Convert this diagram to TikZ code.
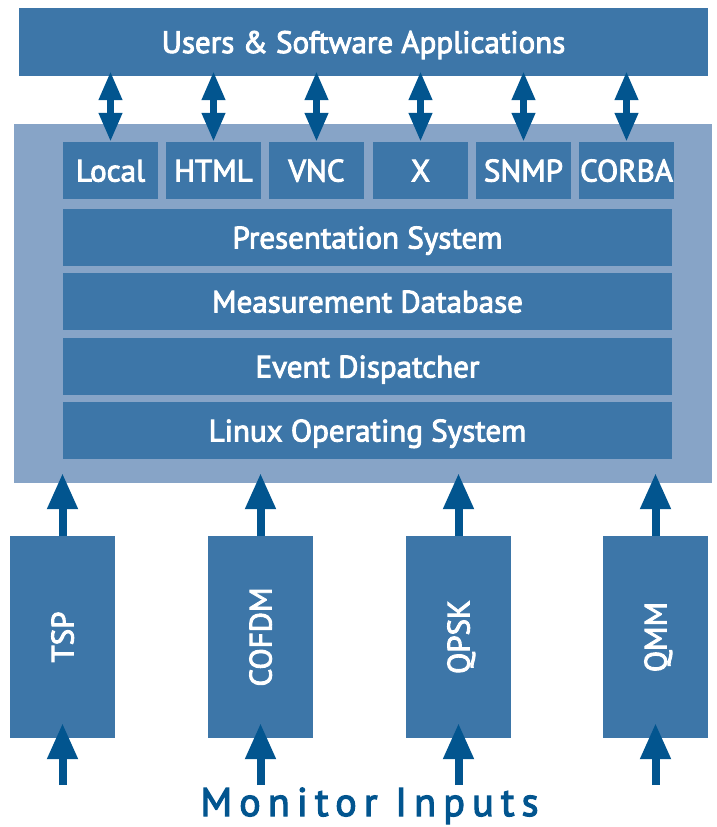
\documentclass[tikz,border=0pt]{standalone}
\usepackage{fontspec}
\setmainfont{PT Sans}
\newfontfamily\medfont[FakeBold=3]{PT Sans}
\usetikzlibrary{arrows.meta}
\definecolor{boxblue}{RGB}{61,118,168}
\definecolor{panelblue}{RGB}{135,164,199}
\definecolor{arrowblue}{RGB}{2,85,143}
\tikzset{
  blk/.style={fill=boxblue, draw=none, inner sep=0pt, text=white,
    font=\medfont\fontsize{31}{31}\selectfont, text height=22pt, text depth=0pt},
  tile/.style={blk, minimum width=95pt, minimum height=57pt},
  layer/.style={blk, minimum width=609pt, minimum height=57pt},
  inbox/.style={fill=boxblue, draw=none, inner sep=0pt, minimum width=105pt, minimum height=202pt},
  vlabel/.style={text=white, font=\medfont\fontsize{31}{31}\selectfont, rotate=90, text height=22pt, text depth=0pt, inner sep=0pt},
  dbl/.style={draw=arrowblue, line width=7pt,
    {Triangle[length=29pt,width=22pt]}-{Triangle[length=29pt,width=22pt]}},
  uparr/.style={draw=arrowblue, line width=8pt,
    -{Triangle[length=36pt,width=29pt]}},
}
\begin{document}
\begin{tikzpicture}[x=1pt,y=-1pt]
\useasboundingbox (0,0) rectangle (717,827);
% top
\node[blk, minimum width=689pt, minimum height=68pt] (users) at (363.5,42) {Users \& Software Applications};
% panel
\node[fill=panelblue, draw=none, inner sep=0pt, minimum width=698pt, minimum height=359pt] (panel) at (363,303.5) {};
% tiles
\node[tile] (local) at (110.5,170.5) {Local};
\node[tile] (html)  at (213.5,170.5) {HTML};
\node[tile] (vnc)   at (316.5,170.5) {VNC};
\node[tile] (x)     at (420.5,170.5) {X};
\node[tile] (snmp)  at (523.5,170.5) {SNMP};
\node[tile] (corba) at (626.5,170.5) {CORBA};
% layers
\node[layer] (pres)  at (367.5,237.5) {Presentation System};
\node[layer] (meas)  at (367.5,301.5) {Measurement Database};
\node[layer] (event) at (367.5,366.5) {Event Dispatcher};
\node[layer] (linux) at (367.5,430.5) {Linux Operating System};
% inputs
\node[inbox, label={[vlabel]center:TSP}]   (tsp)   at (62.5,637) {};
\node[inbox, label={[vlabel]center:COFDM}] (cofdm) at (260.5,637) {};
\node[inbox, label={[vlabel]center:QPSK}]  (qpsk)  at (458.5,637) {};
\node[inbox, label={[vlabel]center:QMM}]   (qmm)   at (655.5,637) {};
% double arrows
\foreach \n in {local,html,vnc,x,snmp,corba}{
  \draw[dbl] ([yshift=5pt]\n.north |- users.south) -- (\n.north);
}
% up arrows into panel
\foreach \n in {tsp,cofdm,qpsk,qmm}{
  \draw[uparr] (\n.north) -- ([yshift=10pt]\n.north |- panel.south);
  \coordinate (\n-in) at ([yshift=-47pt]\n.south);
  \draw[uparr] (\n-in) -- ([yshift=15pt]\n.south);
}
\node[text=arrowblue, font=\medfont\fontsize{40}{40}\selectfont\addfontfeatures{LetterSpace=18}, inner sep=0pt, anchor=base] (mon) at (369.5,816) {Monitor Inputs};
\end{tikzpicture}
\end{document}
